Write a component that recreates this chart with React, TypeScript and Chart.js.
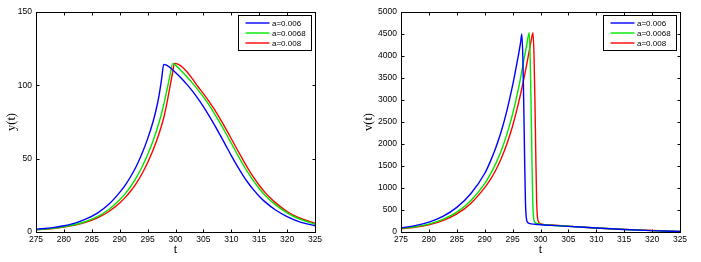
import React, { useEffect, useRef } from "react";
import { Chart, registerables } from "chart.js";

Chart.register(...registerables);

// ---------- shared labels / colours ----------
const legendLabels = ["a=0.006", "a=0.0068", "a=0.008"];
const seriesColors = ["#0000ff", "#00e600", "#ff0000"];

// ---------- left panel: y(t) ----------
const yTicksLeft = [0, 50, 100, 150];
const xTicks = [275, 280, 285, 290, 295, 300, 305, 310, 315, 320, 325];

const tY1 = [275, 278, 280, 282, 284, 286, 288, 290, 291, 292, 293, 294, 295, 296, 296.5, 297, 297.5, 297.9, 298.3, 299, 300, 301, 302, 303, 304, 305, 306, 307, 308, 309, 310, 311, 312, 313, 314, 315, 316, 318, 320, 322, 325];
const yA1 = [1.8, 3.0, 4.3, 6.1, 8.9, 12.9, 18.7, 27, 32, 38, 45, 53.5, 63.5, 75.5, 83, 92, 104, 114.3, 113.9, 112.2, 108.8, 105, 100.8, 96.2, 91.1, 85.5, 79.4, 72.9, 66.1, 59.1, 52.1, 45.4, 39.2, 33.6, 28.7, 24.4, 20.7, 14.8, 10.5, 7.3, 4.2];

const tY2 = [275, 278, 280, 282, 284, 286, 288, 290, 291, 292, 293, 294, 295, 296, 297, 297.5, 298, 298.5, 299, 299.5, 300, 301, 302, 303, 304, 305, 306, 307, 308, 309, 310, 311, 312, 313, 314, 315, 316, 318, 320, 322, 325];
const yA2 = [1.6, 2.6, 3.6, 5.1, 7.3, 10.5, 15.2, 22, 26.2, 31.2, 37.2, 44.3, 52.6, 62.4, 74, 80.8, 88.5, 97.5, 106.5, 114.8, 113.8, 110, 106, 101.7, 97.1, 92.1, 86.6, 80.6, 74.2, 67.5, 60.5, 53.5, 46.7, 40.4, 34.7, 29.7, 25.3, 18.3, 13.1, 9.2, 5.3];

const tY3 = [275, 278, 280, 282, 284, 286, 288, 290, 291, 292, 293, 294, 295, 296, 297, 297.5, 298, 298.5, 299, 299.5, 299.8, 300.3, 301, 302, 303, 304, 305, 306, 307, 308, 309, 310, 311, 312, 313, 314, 315, 316, 317, 318, 320, 322, 325];
const yA3 = [1.5, 2.4, 3.3, 4.7, 6.7, 9.6, 13.8, 19.8, 23.6, 28.1, 33.4, 39.7, 47.2, 56, 66.5, 72.6, 79.6, 88.5, 99, 109, 115, 114.6, 113.2, 109.4, 104.6, 99.2, 94.4, 89.1, 83.4, 77.1, 70.5, 63.6, 56.6, 49.8, 43.2, 37.2, 31.9, 27.2, 23.1, 19.7, 14.0, 9.9, 5.9];

// ---------- right panel: v(t) ----------
const yTicksRight = [0, 500, 1000, 1500, 2000, 2500, 3000, 3500, 4000, 4500, 5000];

const tV1 = [275, 277.5, 280, 282.5, 285, 287.5, 290, 291, 292, 293, 294, 295, 295.5, 296, 296.4, 296.66, 296.85, 297, 297.15, 297.3, 297.45, 297.7, 298, 299, 300, 302, 305, 310, 315, 320, 325];
const vA1 = [95, 145, 225, 355, 560, 870, 1330, 1600, 1920, 2300, 2770, 3330, 3650, 3990, 4280, 4500, 3900, 2900, 1700, 700, 330, 220, 195, 175, 165, 150, 128, 90, 58, 32, 12];

const tV2 = [275, 277.5, 280, 282.5, 285, 287.5, 290, 291, 292, 293, 294, 295, 296, 296.5, 297, 297.5, 297.98, 298.15, 298.3, 298.45, 298.6, 298.75, 299, 299.5, 300, 302, 305, 310, 315, 320, 325];
const vA2 = [80, 120, 180, 285, 450, 710, 1100, 1310, 1560, 1860, 2230, 2680, 3230, 3550, 3900, 4230, 4530, 3950, 3000, 1800, 750, 340, 220, 190, 178, 155, 130, 90, 58, 32, 12];

const tV3 = [275, 277.5, 280, 282.5, 285, 287.5, 290, 291, 292, 293, 294, 295, 296, 297, 297.5, 298, 298.3, 298.65, 298.85, 299, 299.15, 299.3, 299.45, 299.7, 300.1, 302, 305, 310, 315, 320, 325];
const vA3 = [70, 108, 165, 260, 410, 650, 1010, 1190, 1410, 1680, 2010, 2410, 2900, 3470, 3790, 4130, 4330, 4530, 3950, 3000, 1800, 750, 340, 220, 185, 158, 132, 92, 60, 33, 13];

// ---------- helpers ----------
const TICK_FONT = { family: "'Liberation Sans', Arial, sans-serif", size: 8.5 };
const TITLE_FONT = { family: "'Liberation Serif', 'Times New Roman', serif", size: 12.5 };

function pts(t: number[], v: number[]) {
  return t.map((x, i) => ({ x, y: v[i] }));
}

function makeDatasets(ts: number[][], vs: number[][]) {
  return ts.map((t, i) => ({
    label: legendLabels[i],
    data: pts(t, vs[i]),
    borderColor: seriesColors[i],
    backgroundColor: seriesColors[i],
    borderWidth: 1.4,
    pointRadius: 0,
    fill: false,
    cubicInterpolationMode: "monotone" as const,
  }));
}

const framePlugin = {
  id: "matlabFrame",
  afterDraw(chart: any) {
    const { ctx, chartArea: a, scales } = chart;
    const xs = scales.x;
    const ys = scales.y;
    ctx.save();
    ctx.strokeStyle = "#000";
    ctx.lineWidth = 1;
    const tl = 3;
    const L = Math.round(a.left) + 0.5;
    const R = Math.round(a.right) + 0.5;
    const T = Math.round(a.top) + 0.5;
    const B = Math.round(a.bottom) + 0.5;
    ctx.beginPath();
    xs.ticks.forEach((t: any) => {
      const px = Math.round(xs.getPixelForValue(t.value)) + 0.5;
      ctx.moveTo(px, B);
      ctx.lineTo(px, B - tl);
      ctx.moveTo(px, T);
      ctx.lineTo(px, T + tl);
    });
    ys.ticks.forEach((t: any) => {
      const py = Math.round(ys.getPixelForValue(t.value)) + 0.5;
      ctx.moveTo(L, py);
      ctx.lineTo(L + tl, py);
      ctx.moveTo(R, py);
      ctx.lineTo(R - tl, py);
    });
    ctx.stroke();
    ctx.strokeRect(L, T, R - L, B - T);

    // legend box
    const w = 73;
    const h = 35;
    const bx = Math.round(a.right - 4 - w) + 0.5;
    const by = Math.round(a.top + 3) + 0.5;
    ctx.fillStyle = "#fff";
    ctx.fillRect(bx, by, w, h);
    ctx.strokeRect(bx, by, w, h);
    ctx.font = "8px 'Liberation Sans', Arial, sans-serif";
    ctx.textBaseline = "middle";
    ctx.textAlign = "left";
    chart.data.datasets.forEach((ds: any, i: number) => {
      const yy = by + 7.5 + i * 10;
      ctx.strokeStyle = ds.borderColor;
      ctx.lineWidth = 1.4;
      ctx.beginPath();
      ctx.moveTo(bx + 7, yy);
      ctx.lineTo(bx + 31, yy);
      ctx.stroke();
      ctx.fillStyle = "#000";
      ctx.fillText(ds.label, bx + 33.5, yy + 0.5);
    });
    ctx.restore();
  },
};

function makeConfig(opts: {
  datasets: any[];
  yMax: number;
  yStep: number;
  yTitle: string;
  yAxisWidth: number;
  yTitlePad: number;
  rightPad: number;
}) {
  return {
    type: "line" as const,
    data: { datasets: opts.datasets },
    options: {
      responsive: false,
      animation: false as const,
      devicePixelRatio: 1,
      layout: { padding: { top: 12, right: opts.rightPad, left: 0, bottom: 0 } },
      plugins: { legend: { display: false }, tooltip: { enabled: false } },
      scales: {
        x: {
          type: "linear" as const,
          min: 275,
          max: 325,
          afterBuildTicks: (s: any) => {
            s.ticks = xTicks.map((v) => ({ value: v }));
          },
          ticks: {
            font: TICK_FONT,
            color: "#000",
            padding: 3,
            maxRotation: 0,
            autoSkip: false,
            callback: (v: any) => String(v),
          },
          grid: { display: false, drawTicks: false },
          border: { display: false },
          title: {
            display: true,
            text: "t",
            font: TITLE_FONT,
            color: "#000",
            padding: { top: 0, bottom: 4.5 },
          },
          afterFit: (s: any) => {
            s.height = 30;
          },
        },
        y: {
          type: "linear" as const,
          min: 0,
          max: opts.yMax,
          ticks: {
            stepSize: opts.yStep,
            font: TICK_FONT,
            color: "#000",
            padding: 4,
            autoSkip: false,
            callback: (v: any) => String(v),
          },
          grid: { display: false, drawTicks: false },
          border: { display: false },
          title: {
            display: true,
            text: opts.yTitle,
            font: TITLE_FONT,
            color: "#000",
            padding: { top: opts.yTitlePad, bottom: 0 },
          },
          afterFit: (s: any) => {
            s.width = opts.yAxisWidth;
          },
        },
      },
    },
    plugins: [framePlugin],
  };
}

function Panel({ left, width, config }: { left: number; width: number; config: any }) {
  const ref = useRef<HTMLCanvasElement | null>(null);
  useEffect(() => {
    if (!ref.current) return;
    const chart = new Chart(ref.current, config);
    return () => chart.destroy();
  }, [config]);
  return (
    <canvas
      ref={ref}
      width={width}
      height={262}
      style={{ position: "absolute", left, top: 0, width, height: 262, display: "block" }}
    />
  );
}

const leftConfig = makeConfig({
  datasets: makeDatasets([tY1, tY2, tY3], [yA1, yA2, yA3]),
  yMax: yTicksLeft[yTicksLeft.length - 1],
  yStep: yTicksLeft[1] - yTicksLeft[0],
  yTitle: "y(t)",
  yAxisWidth: 36,
  yTitlePad: 4,
  rightPad: 35,
});

const rightConfig = makeConfig({
  datasets: makeDatasets([tV1, tV2, tV3], [vA1, vA2, vA3]),
  yMax: yTicksRight[yTicksRight.length - 1],
  yStep: yTicksRight[1] - yTicksRight[0],
  yTitle: "v(t)",
  yAxisWidth: 51,
  yTitlePad: 11.5,
  rightPad: 21,
});

export default function App() {
  return (
    <div
      style={{
        position: "absolute",
        left: 0,
        top: 0,
        width: 701,
        height: 262,
        background: "#fff",
        overflow: "hidden",
      }}
    >
      <Panel left={0} width={350} config={leftConfig} />
      <Panel left={350} width={351} config={rightConfig} />
    </div>
  );
}
